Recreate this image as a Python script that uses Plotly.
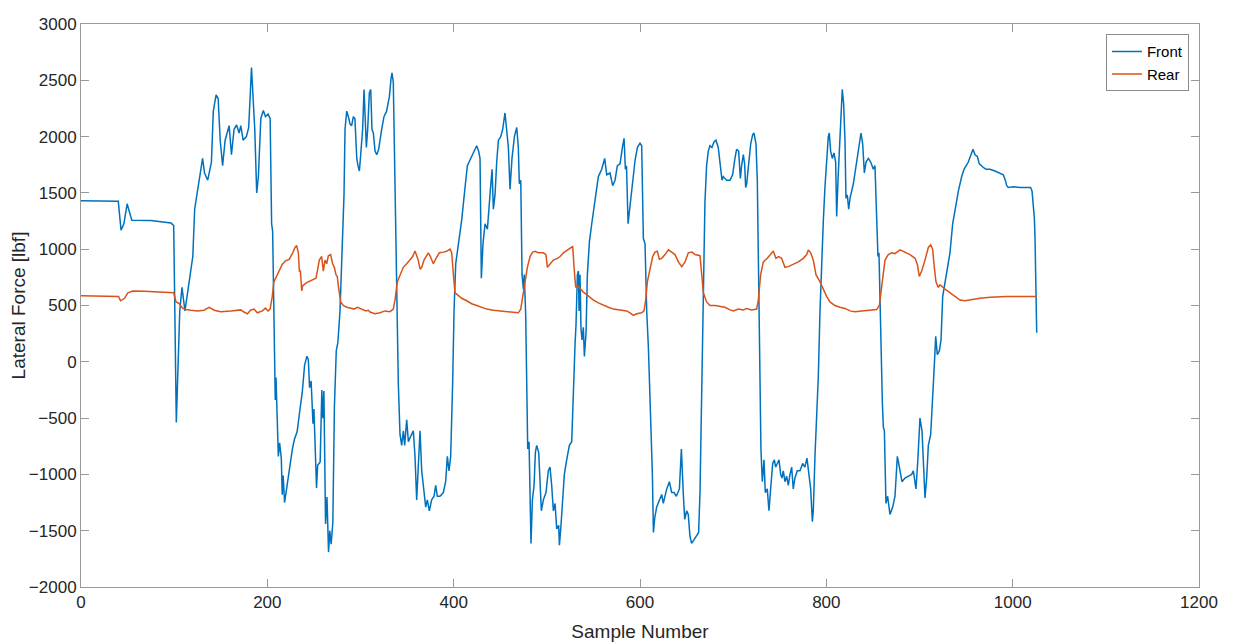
import plotly.graph_objects as go

# ---- Front lateral force (sample, lbf) ----
front_x = [0, 20, 40, 43, 46, 49.5, 52, 54.5, 75, 96.6, 99.5, 102.3, 106, 108.4, 111.6, 116, 120, 122, 126, 130.5,
           132.6, 136, 140, 142, 145, 147.2, 149.4, 152, 154.7, 159, 161.5, 164.3, 167, 169.7, 171.5, 174, 177.5, 180,
           183, 184.7, 186.5, 188.6, 190.4, 193, 195.7, 198, 200.7, 203, 204.6, 205.7,
           207.5, 208.5, 209.3, 210.7, 211.8, 213.2, 215, 216, 217, 218.5, 221, 224, 226.8, 229, 232, 234.6, 237.5,
           240, 242.5, 244, 245.3, 247, 249, 250, 251.7, 252.8, 254, 256.7, 258.5, 259.6, 260.7, 262.5, 264, 265.7,
           267, 268.5, 270.3, 272, 274, 275.7, 278, 280.2, 282.3, 283.4, 285.2,
           287, 288.7, 290.5, 292.3, 294, 296, 297.3, 298.8, 300.2, 302.3, 303.8, 305.2, 306.3, 307.7, 309.5, 311,
           312.3, 313.8, 315.6, 317.4, 319.5, 322.7, 325.2, 328, 331, 332.8, 333.8, 335.2, 337, 338, 339.5, 340.6,
           342.4, 344.2, 346, 347.4, 349.6, 351.4, 353, 356.7, 358.5, 360.3, 362, 363.9, 365.7, 368.2, 370, 371.7,
           373.9, 376.4, 378.9, 380.7, 382.5, 385.3, 388.9, 391.4, 393.2, 395, 396.8, 398.9, 400.4, 402.2, 405,
           408.6, 412.2, 414.7, 419.3, 422.2, 424.7, 426.8, 428.3, 429.7, 431.5, 433.7, 436.2, 439, 441.2, 442.6,
           444.4, 446.2, 448, 450.5, 452.6, 455.1, 456.9, 458.7, 460.5, 462.6, 465.2, 467.7, 469.4, 470.5, 472,
           473.4, 474.8, 475.8, 477.3, 478.4, 479.5, 480.9, 482, 483, 484.5, 486.3, 487.7, 489.1, 491.3, 492.7,
           494.1, 496.3, 499.1, 501.6, 503.4, 505.2, 507, 508.8, 510.6, 512.7, 513.5, 515.2, 517, 518.8, 521.3,
           524.2, 526.7, 528.5, 530.3, 531.3, 532.8, 533.9, 534.6, 535.6, 536.7, 537.8, 539.2, 540.3, 542.1, 543.5,
           545.7, 548.2, 551.7, 555.3, 558.9, 562.1, 564.3, 567.8, 570.7, 573.2, 575.7, 578.6, 581.4, 582.9, 584.3,
           585.5, 587.2, 589.3, 592.2, 594.7, 597.2, 600, 601.8, 603.6, 605.4, 607.2, 609, 610.8, 611.9, 613.3,
           614.4, 615.8, 617.9, 620.8, 623.3, 625, 628.7, 631.5, 634, 636.5, 639, 642.3, 644.4, 646.6, 648, 650.1,
           651.8, 653.6, 655.4, 657.9, 660.8, 662.9, 664.4, 666.2, 668, 669.7, 671.5, 673.3, 675.1, 677.2, 679.4,
           681.5, 684, 686.6, 688, 689.4, 693, 696.6, 699.4, 701.9, 703.7, 705.9, 707.7, 709.1, 710.9, 712.3, 713.4,
           714.5, 716.3, 718.8, 720.9, 722.3, 724.5, 725.9, 727.3, 728.8, 729.8, 731.3, 733.1, 734.5, 736.6, 738.4,
           740.2, 742.4, 744.2, 745.6, 747.4, 749.2, 751, 752.4, 753.8, 755.6, 757.4, 759.2, 761, 762.8, 764.5,
           766.3, 768.8, 771.7, 774.6, 777, 779.2, 781, 783.2, 785, 786, 787.8, 789.6, 791.4, 793.2, 795, 796.8,
           798.5, 800.3, 802.1, 803.2, 804.6, 806.4, 808.2, 810, 811.1, 812.5, 813.9, 815.4, 817.1, 818.6, 820,
           821.1, 822.5, 824, 825.4, 829, 832.5, 835.4, 837.2, 839, 840.8, 842.6, 845.1, 847.6, 850.4, 852.2, 854,
           855.4, 856.5, 857.6, 858.7, 860.1, 861.2, 862.3, 864, 865.8, 868.3, 871.2, 873.7, 876.2, 878.4, 881.2,
           884.4, 888, 891.6, 893.4, 896.2, 898, 900.5, 902.7, 904.1, 905.9, 907.7, 909.5, 912, 914.1, 915.9, 917.4,
           919.1, 921.3, 923.1, 924.9, 927.4, 930.2, 932.7, 935.6, 938.1, 941.7, 945.3, 947.8, 952.4, 954.9, 957.4,
           959.6, 962.1, 964.2, 966, 968.5, 971.4, 975.7, 981, 986.4, 990, 992.1, 993.6, 995.3, 1000.7, 1007.9,
           1015, 1019.3, 1020.8, 1022.2, 1023.3, 1024, 1025, 1025.8]
front_y = [1430, 1428, 1425, 1168, 1226, 1403, 1322, 1258, 1255, 1232, 1210, -540, 452, 661, 452, 710, 935, 1355, 1581, 1806,
           1677, 1613, 1774, 2226, 2371, 2339, 1968, 1742, 1968, 2097, 1839, 2065, 2103, 2032, 2097, 1968, 2000, 2081,
           2613, 2387, 2065, 1500, 1645, 2161, 2232, 2177, 2200, 2161, 1226, 1161,
           -120, -340, -140, -660, -840, -720, -860, -1180, -1010, -1250, -1100, -950, -780, -690, -620, -450, -270,
           -30, 50, 20, -230, -170, -550, -420, -940, -1120, -920, -890, -250, -500, -260, -1440, -1200, -1690,
           -1500, -1620, -1430, -400, 100, 170, 450, 935, 1484, 2065, 2226,
           2177, 2113, 2097, 2177, 2161, 1806, 1742, 1694, 1839, 2065, 2419, 2129, 1903, 2065, 2387, 2419,
           2065, 2032, 1871, 1839, 1887, 2065, 2177, 2226, 2355, 2516, 2565, 2484, 1484, 1290, 387, -194,
           -645, -742, -613, -742, -516, -710, -678, -613, -839, -1226, -936, -613, -968, -1161, -1290, -1226,
           -1323, -1226, -1194, -1097, -1194, -1194, -1161, -1065, -839, -968, -839, -194, 452, 871, 1032,
           1258, 1548, 1742, 1823, 1871, 1919, 1871, 1806, 742, 1050, 1226, 1177, 1484, 1710, 1355,
           1484, 1774, 1968, 2000, 2065, 2210, 2032, 1903, 1532, 1806, 2000, 2081, 1903, 1581, 1613,
           774, 645, 774, 419, -355, -774, -710, -1161, -1613, -1226, -1097, -807, -742, -807, -1097,
           -1323, -1226, -1161, -968, -936, -1097, -1323, -1258, -1484, -1452, -1629, -1452, -1161, -1000, -871,
           -742, -710, -194, 161, 323, 774, 807, 452, 774, 290, 194, 306, 48, 258, 774,
           1065, 1226, 1452, 1645, 1710, 1806, 1661, 1677, 1564, 1613, 1742, 1758, 1919, 1984, 1710,
           1742, 1226, 1387, 1581, 1790, 1903, 1942, 1919, 1097, 1048, 452, 129, -355, -452, -1000,
           -1516, -1387, -1290, -1226, -1178, -1258, -1129, -1065, -1161, -1161, -1194, -1129, -774, -1194, -1400, -1323,
           -1355, -1549, -1613, -1581, -1549, -1516, -1161, -194, 774, 1419, 1742, 1871, 1919, 1903, 1952,
           1968, 1903, 1710, 1613, 1645, 1613, 1613, 1661, 1806, 1887, 1871, 1629, 1742, 1839, 1758, 1548,
           1581, 1710, 1935, 2016, 2032, 1935, 1613, 774, -129, -774, -1065, -871, -1161, -1129, -1323,
           -1161, -903, -871, -936, -903, -871, -1000, -1032, -968, -1065, -1016, -1097, -1000, -936, -1129,
           -1032, -968, -968, -903, -936, -855, -968, -1129, -1420, -1323, -839, -516, -129, 452, 935, 1258,
           1548, 1806, 2000, 2032, 1871, 1806, 1855, 1774, 1290, 1613, 1903, 2226, 2419, 2290, 1968,
           1452, 1484, 1355, 1452, 1581, 1774, 1968, 2032, 1935, 1677, 1774, 1806, 1774, 1710, 1742, 1258,
           935, 968, 500, 226, -355, -581, -613, -1258, -1194, -1355, -1290, -1194, -839, -936, -1065,
           -1032, -1016, -1000, -968, -1129, -903, -500, -613, -839, -1210, -1032, -742, -645, -355, -32, 226,
           64, 97, 194, 581, 710, 839, 968, 1226, 1355, 1516, 1645, 1710, 1774, 1823, 1887,
           1839, 1823, 1758, 1742, 1726, 1710, 1710, 1694, 1677, 1661, 1613, 1564, 1548, 1555, 1548,
           1548, 1548, 1516, 1355, 1274, 1097, 710, 258]

# ---- Rear lateral force (sample, lbf) ----
rear_x = [0, 20, 40.3, 42.4, 46.7, 50.3, 55.6, 68, 86, 99.5, 102, 105.5, 109, 112.7, 118, 125, 132, 137.6, 143, 150,
          160.8, 171.5, 175, 178.6, 182, 185.7, 189.3, 194.7, 198, 200.7, 203, 205.3, 207, 210, 212.8, 216, 219.6,
          223.5, 227.2, 229.7, 231.5, 233.3, 234.4, 235.5, 236.9, 238, 242.2, 247.6, 252.2, 253.7, 255.8, 258.3,
          260.1, 261.9, 263.7, 265.5, 268, 270.1, 271.9, 273.7, 275.1, 276.2, 277.3, 278.7, 281.6, 285.2, 288.7,
          293, 296.6, 301.3, 305.9, 308.4, 310.2, 315.6, 320.9, 326.3, 331.7, 335.2, 337, 339.5, 342.4, 345.9,
          349.6, 353.1, 356, 358.5, 360.2, 362, 363.9, 365.7, 368.2, 371, 372.8, 375, 378.2, 381.1, 384.6, 388.9,
          392.5, 396.1, 397.9, 399.7, 401.4, 403.9, 408.6, 414, 419.3, 424.7, 430.1, 435.4, 442.6, 449.8, 456.9,
          464.1, 469.4, 472, 474.1, 476.6, 479.1, 482, 484.8, 487.3, 490.9, 496.3, 499.1, 500.6, 503.4, 507,
          511.3, 514.2, 517.8, 522, 525.6, 527.8, 529.2, 531, 532.8, 535.6, 539.2, 542.8, 546.4, 550, 555.3,
          560.7, 566.1, 571.4, 578.6, 585.7, 589.3, 592.9, 596.5, 601.8, 604.3, 606.1, 607.9, 610.8, 613.6,
          616.1, 618.6, 620.8, 623.3, 626.9, 630.5, 634, 637.6, 641.2, 644.8, 648.3, 651.9, 655.9, 659, 664.4,
          666.2, 668, 671.5, 675.1, 680.5, 685.8, 691.2, 696.6, 700.2, 705.5, 710.9, 714.5, 719.8, 725.2, 727,
          729.5, 732.4, 736.6, 740.2, 743.1, 745.9, 748.8, 752, 755.6, 759.2, 764.5, 769.9, 775.3, 778.9, 780.7,
          783.2, 786, 788.9, 793.2, 796.8, 800.3, 803.9, 809.3, 814.6, 820, 825.4, 830.7, 837.9, 846.8, 854,
          856.9, 859.4, 861, 863, 866.5, 870.1, 873.7, 879.1, 884.4, 889.8, 895.2, 897.7, 899.8, 902.3, 905.9,
          909.5, 912, 914.1, 915.9, 917.7, 920.2, 922, 927.4, 932.7, 938.1, 943.5, 948.8, 957.8, 964.9, 975.7,
          993.6, 1011.5, 1025.8]
rear_y = [587, 585, 581, 542, 564, 613, 629, 626, 619, 613, 532, 516, 477, 464, 458, 452, 458, 484, 458, 445,
          452, 461, 442, 426, 458, 468, 435, 452, 477, 452, 468, 581, 710, 758, 806, 864, 897,
          910, 968, 1016, 1032, 968, 806, 806, 629, 677, 703, 726, 742, 806, 903, 935,
          806, 903, 871, 942, 952, 871, 839, 774, 758, 677, 629, 532, 500, 484, 477,
          468, 484, 468, 452, 458, 442, 426, 435, 452, 445, 468, 548, 710, 774, 839,
          871, 903, 935, 984, 935, 903, 823, 839, 903, 952, 968, 935, 871, 919, 968, 974,
          981, 1000, 968, 774, 613, 597, 564, 542, 516, 500, 484, 468, 458, 452, 442,
          435, 435, 468, 581, 710, 839, 935, 974, 981, 968, 968, 952, 839, 871, 903,
          919, 935, 968, 994, 1016, 1026, 839, 661, 677, 652, 619, 597, 574, 548, 523,
          500, 484, 468, 458, 452, 435, 413, 426, 435, 452, 548, 710, 839, 935,
          974, 981, 910, 919, 952, 994, 974, 952, 887, 845, 887, 968, 974, 952, 942,
          774, 613, 532, 500, 500, 490, 484, 461, 452, 468, 461, 474, 461, 468, 548,
          774, 887, 919, 952, 984, 919, 935, 919, 839, 845, 864, 887, 919, 952, 994,
          968, 903, 774, 710, 645, 581, 532, 500, 484, 474, 452, 445, 452, 458, 464,
          500, 645, 774, 903, 952, 968, 961, 994, 974, 952, 919, 864, 758, 806, 903,
          1016, 1039, 1000, 839, 710, 661, 684, 645, 613, 581, 548, 542, 555, 564, 574,
          581, 581, 581]

x_ticks = [0, 200, 400, 600, 800, 1000, 1200]
y_ticks = [-2000, -1500, -1000, -500, 0, 500, 1000, 1500, 2000, 2500, 3000]

FONT = "Liberation Sans, Arial, sans-serif"
TXT = "#262626"
AX = "#9a9a9a"

fig = go.Figure()
fig.add_trace(go.Scatter(x=front_x, y=front_y, mode="lines", name="Front",
                         line=dict(color="#0072BD", width=1.5)))
fig.add_trace(go.Scatter(x=rear_x, y=rear_y, mode="lines", name="Rear",
                         line=dict(color="#D95319", width=1.5)))

fig.update_layout(
    width=1231, height=636,
    margin=dict(l=73, r=40, t=16, b=57, autoexpand=False),
    paper_bgcolor="white", plot_bgcolor="white",
    font=dict(family=FONT, color=TXT, size=17),
    showlegend=True,
    legend=dict(x=0.991, y=0.982, xanchor="right", yanchor="top",
                bgcolor="white", bordercolor="#8c8c8c", borderwidth=1,
                font=dict(size=15, color="black", family=FONT),
                tracegroupgap=0, itemwidth=30),
)
fig.update_xaxes(range=[0, 1200], tickvals=x_ticks, ticks="inside", ticklen=8, tickcolor=AX,
                 showline=True, linecolor=AX, linewidth=1, mirror="ticks", showgrid=False, zeroline=False,
                 automargin=False,
                 tickfont=dict(size=17, color=TXT),
                 title=dict(text="Sample Number", font=dict(size=19, color=TXT), standoff=13))
fig.update_yaxes(range=[-2000, 3000], tickvals=y_ticks, ticks="inside", ticklen=8, tickcolor=AX,
                 showline=True, linecolor=AX, linewidth=1, mirror="ticks", showgrid=False, zeroline=False,
                 automargin=False,
                 tickfont=dict(size=17, color=TXT),
                 title=dict(text="Lateral Force [lbf]", font=dict(size=19, color=TXT), standoff=13))

fig.write_html("out.html")
